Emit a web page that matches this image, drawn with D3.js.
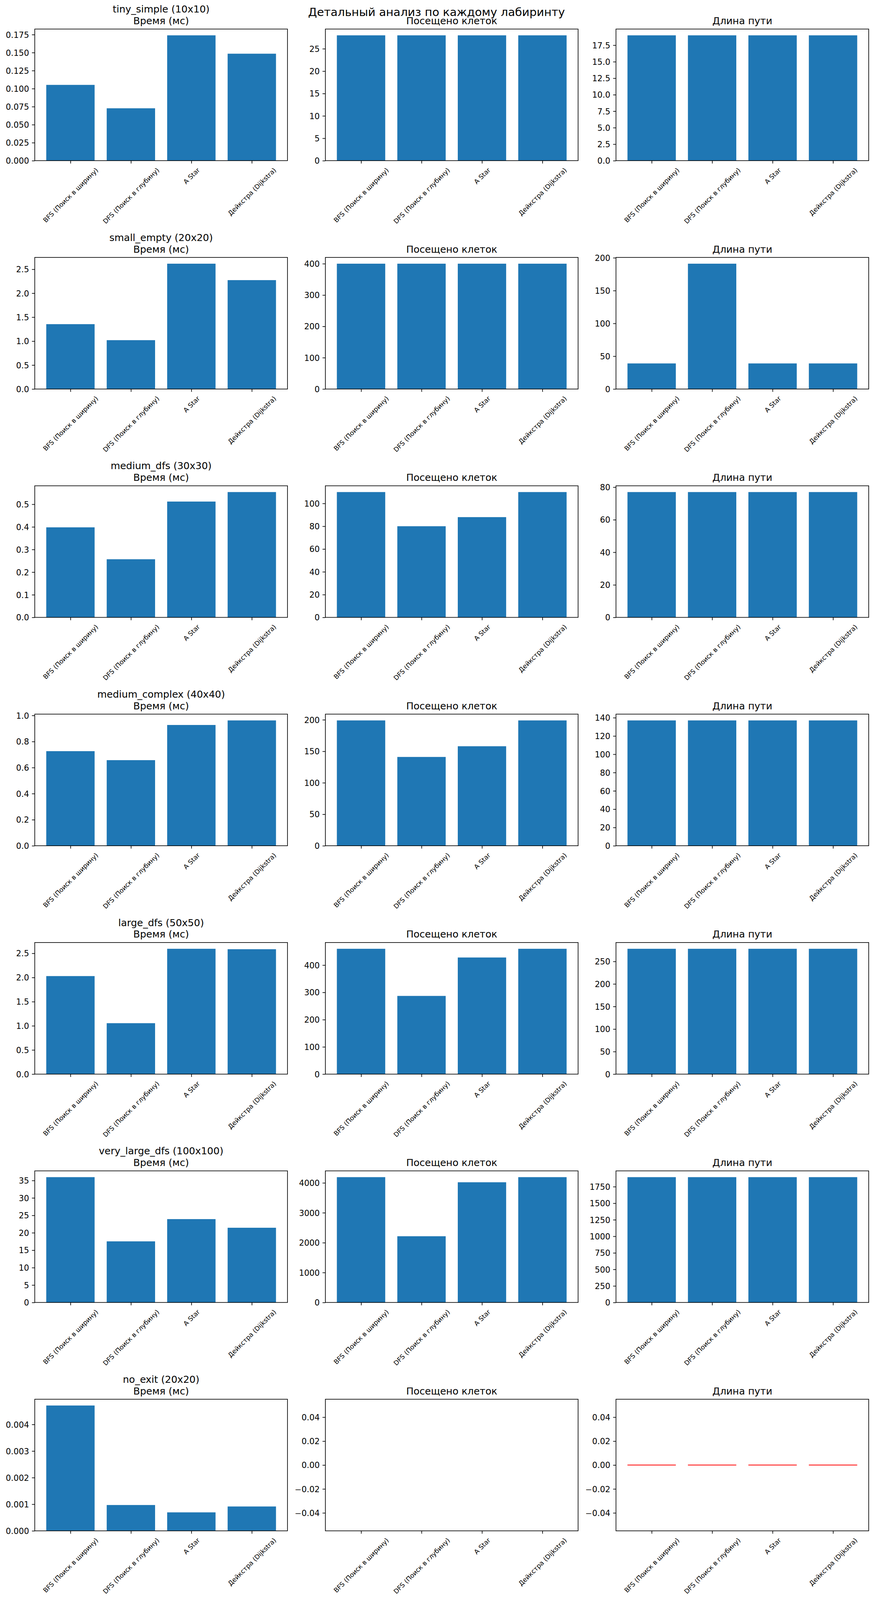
<!DOCTYPE html>
<html><head><meta charset="utf-8">
<script src="https://cdn.jsdelivr.net/npm/d3@7"></script>
<style>
html,body{margin:0;padding:0;background:#fff;overflow:hidden}
svg{display:block}
text{font-family:"DejaVu Sans",sans-serif;fill:#000}
</style>
</head><body>
<svg id="chart" xmlns="http://www.w3.org/2000/svg"></svg>
<script>
// ---------------- DATA ----------------
const suptitle = "Детальный анализ по каждому лабиринту";
const metricTitles = ["Время (мс)", "Посещено клеток", "Длина пути"];
const algorithms = ["BFS (Поиск в ширину)", "DFS (Поиск в глубину)", "A Star", "Дейкстра (Dijkstra)"];
const mazes = ["tiny_simple (10x10)", "small_empty (20x20)", "medium_dfs (30x30)", "medium_complex (40x40)",
               "large_dfs (50x50)", "very_large_dfs (100x100)", "no_exit (20x20)"];

const timeMs = [
  [0.1052, 0.0727, 0.1740, 0.1485],
  [1.354, 1.020, 2.616, 2.273],
  [0.398, 0.257, 0.512, 0.554],
  [0.726, 0.657, 0.927, 0.962],
  [2.029, 1.054, 2.594, 2.585],
  [35.96, 17.54, 23.92, 21.44],
  [0.004712, 0.000971, 0.000695, 0.000916]
];
const visitedCells = [
  [28, 28, 28, 28],
  [400, 400, 400, 400],
  [110, 80, 88, 110],
  [199, 141, 158, 199],
  [460, 287, 428, 460],
  [4191, 2215, 4020, 4191],
  [0, 0, 0, 0]
];
const pathLength = [
  [19, 19, 19, 19],
  [39, 191, 39, 39],
  [77, 77, 77, 77],
  [137, 137, 137, 137],
  [278, 278, 278, 278],
  [1894, 1894, 1894, 1894],
  [0, 0, 0, 0]
];

const timeTicks = [
  ["0.000","0.025","0.050","0.075","0.100","0.125","0.150","0.175"],
  ["0.0","0.5","1.0","1.5","2.0","2.5"],
  ["0.0","0.1","0.2","0.3","0.4","0.5"],
  ["0.0","0.2","0.4","0.6","0.8","1.0"],
  ["0.0","0.5","1.0","1.5","2.0","2.5"],
  ["0","5","10","15","20","25","30","35"],
  ["0.000","0.001","0.002","0.003","0.004"]
];
const visitedTicks = [
  ["0","5","10","15","20","25"],
  ["0","100","200","300","400"],
  ["0","20","40","60","80","100"],
  ["0","50","100","150","200"],
  ["0","100","200","300","400"],
  ["0","1000","2000","3000","4000"],
  ["\u22120.04","\u22120.02","0.00","0.02","0.04"]
];
const pathTicks = [
  ["0.0","2.5","5.0","7.5","10.0","12.5","15.0","17.5"],
  ["0","50","100","150","200"],
  ["0","20","40","60","80"],
  ["0","20","40","60","80","100","120","140"],
  ["0","50","100","150","200","250"],
  ["0","250","500","750","1000","1250","1500","1750"],
  ["\u22120.04","\u22120.02","0.00","0.02","0.04"]
];

// ---------------- LAYOUT / STYLE ----------------
const W = 2235, H = 4129;
const PT = 150 / 72;
const fsTick = 10 * PT, fsX = 8 * PT, fsTitle = 12 * PT, fsSup = 14 * PT;
const tickLen = 3.5 * PT, tickPad = 3.5 * PT, lw = 0.8 * PT;
const titlePad = 6 * PT;
const barColor = "#1f77b4";
const zeroColor = "#ff0000";
const colLeft = [89, 833, 1577], axW = 647;
const rowTop0 = 75, rowPitch = 589.32, axH = 339.6;

// fit the full figure into the visible viewport
const viewH = Math.min(H, window.innerHeight || H);
const svg = d3.select("#chart")
  .attr("width", W).attr("height", viewH)
  .attr("viewBox", `0 0 ${W} ${H}`)
  .attr("preserveAspectRatio", "none");
svg.append("rect").attr("width", W).attr("height", H).attr("fill", "#fff");

svg.append("text").attr("x", W / 2).attr("y", 41.5)
  .attr("text-anchor", "middle").attr("font-size", fsSup).text(suptitle);

const metrics = [
  { values: timeMs, ticks: timeTicks, zeroMark: false },
  { values: visitedCells, ticks: visitedTicks, zeroMark: false },
  { values: pathLength, ticks: pathTicks, zeroMark: true }
];

mazes.forEach((maze, r) => {
  metrics.forEach((m, c) => {
    const vals = m.values[r];
    const labels = m.ticks[r];
    const tickNums = labels.map(s => +s.replace("\u2212", "-"));
    const g = svg.append("g").attr("transform", `translate(${colLeft[c]},${rowTop0 + r * rowPitch})`);

    const x = d3.scaleLinear().domain([-0.59, 3.59]).range([0, axW]);
    const vmax = d3.max(vals);
    const y = d3.scaleLinear().domain(vmax > 0 ? [0, vmax * 1.05] : [-0.055, 0.055]).range([axH, 0]);

    // bars
    g.selectAll("rect.bar").data(vals.map((d, i) => ({ d, i })).filter(o => o.d !== 0)).join("rect")
      .attr("class", "bar")
      .attr("x", o => x(o.i - 0.4))
      .attr("width", x(0.4) - x(-0.4))
      .attr("y", o => y(Math.max(o.d, 0)))
      .attr("height", o => Math.abs(y(o.d) - y(0)))
      .attr("fill", barColor);

    // zero-length path marks
    if (m.zeroMark) {
      g.selectAll("line.zero").data(vals.map((d, i) => ({ d, i })).filter(o => o.d === 0)).join("line")
        .attr("class", "zero")
        .attr("x1", o => x(o.i - 0.4)).attr("x2", o => x(o.i + 0.4))
        .attr("y1", o => y(0)).attr("y2", o => y(0))
        .attr("stroke", zeroColor).attr("stroke-width", 1 * PT);
    }

    // y axis
    const ya = g.append("g").call(
      d3.axisLeft(y).tickValues(tickNums).tickFormat((d, i) => labels[i])
        .tickSize(tickLen).tickPadding(tickPad));
    ya.select(".domain").remove();
    ya.selectAll(".tick line").attr("stroke", "#000").attr("stroke-width", lw);
    ya.selectAll(".tick text").attr("font-size", fsTick).attr("dy", "0.36em")
      .attr("font-family", "DejaVu Sans").attr("fill", "#000");

    // x axis
    const xa = g.append("g").attr("transform", `translate(0,${axH})`).call(
      d3.axisBottom(x).tickValues([0, 1, 2, 3]).tickFormat(i => algorithms[i])
        .tickSize(tickLen).tickPadding(tickPad));
    xa.select(".domain").remove();
    xa.selectAll(".tick line").attr("stroke", "#000").attr("stroke-width", lw);
    xa.selectAll(".tick text")
      .attr("font-size", fsX).attr("font-family", "DejaVu Sans").attr("fill", "#000")
      .attr("text-anchor", "middle")
      .each(function () {
        const L = this.getComputedTextLength();
        const cy = tickLen + tickPad + (L + 1.164 * fsX) * Math.SQRT1_2 / 2;
        d3.select(this).attr("x", 0).attr("y", cy).attr("dy", "0.35em")
          .attr("transform", `rotate(-45,0,${cy})`);
      });

    // frame
    g.append("rect").attr("x", 0).attr("y", 0).attr("width", axW).attr("height", axH)
      .attr("fill", "none").attr("stroke", "#000").attr("stroke-width", lw);

    // title
    const t = g.append("text").attr("x", axW / 2).attr("y", -titlePad)
      .attr("text-anchor", "middle").attr("font-size", fsTitle);
    if (c === 0) {
      t.append("tspan").attr("x", axW / 2).attr("y", -titlePad - 1.2 * fsTitle).text(maze);
      t.append("tspan").attr("x", axW / 2).attr("y", -titlePad).text(metricTitles[c]);
    } else {
      t.text(metricTitles[c]);
    }
  });
});
</script>
</body></html>
